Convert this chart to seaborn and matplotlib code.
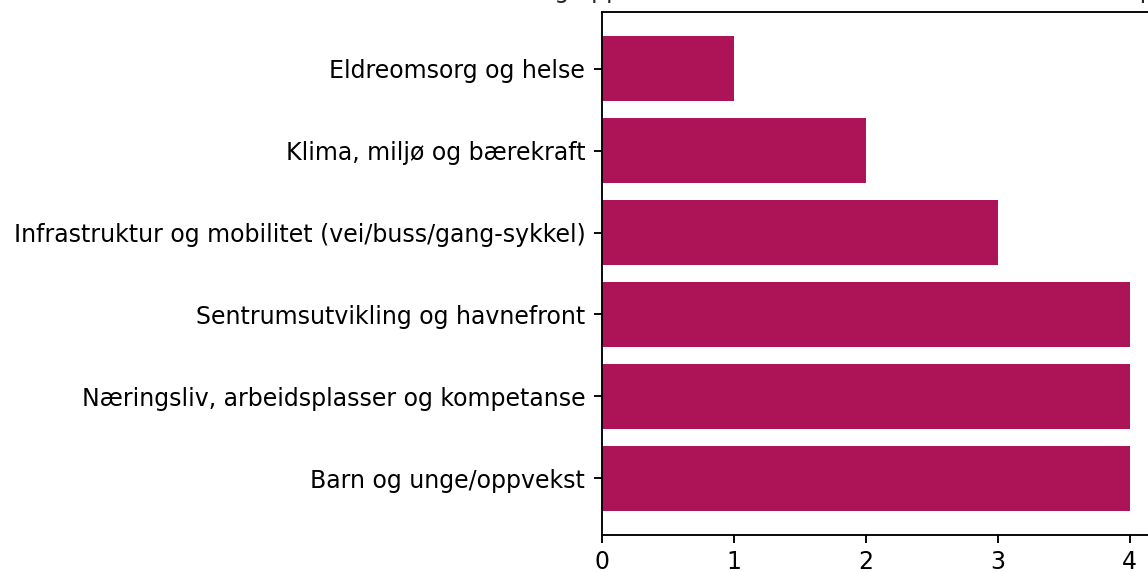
import matplotlib
matplotlib.use("Agg")
import matplotlib.pyplot as plt
import seaborn as sns
import pandas as pd

# data (top to bottom as shown)
tema = [
    "Eldreomsorg og helse",
    "Klima, miljø og bærekraft",
    "Infrastruktur og mobilitet (vei/buss/gang-sykkel)",
    "Sentrumsutvikling og havnefront",
    "Næringsliv, arbeidsplasser og kompetanse",
    "Barn og unge/oppvekst",
]
antall = [1, 2, 3, 4, 4, 4]
tittel = "Tema og oppsummerte ønsker fra de ulike deltakerne til planen 2030"

df = pd.DataFrame({"tema": tema, "antall": antall})

sns.set_style("ticks")
plt.rcParams["font.family"] = ["DejaVu Sans"]
plt.rcParams["font.size"] = 17

fig = plt.figure(figsize=(11.48, 5.72), dpi=100)
ax = fig.add_axes([0.5244, 0.0647, 0.4826, 0.9143])

sns.barplot(data=df, x="antall", y="tema", orient="h", color="#AD1457",
            saturation=1, width=0.8, linewidth=0, ax=ax)

# matplotlib-like margins around the bars
n = len(tema)
pad = 0.05 * (n - 1 + 0.8)
ax.set_ylim(n - 1 + 0.4 + pad, -0.4 - pad)
ax.set_xlim(0, max(antall) * 1.05)
ax.set_xticks(range(0, max(antall) + 1))

ax.set_xlabel("")
ax.set_ylabel("")
ax.set_title(tittel, fontsize=17, pad=10)
for s in ax.spines.values():
    s.set_visible(True)
    s.set_linewidth(1.35)
    s.set_color("black")
ax.tick_params(length=6, width=1.35, labelsize=17, colors="black")
ax.tick_params(axis="y", pad=6)
ax.tick_params(axis="x", pad=5)

fig.savefig("out.png", dpi=100)
